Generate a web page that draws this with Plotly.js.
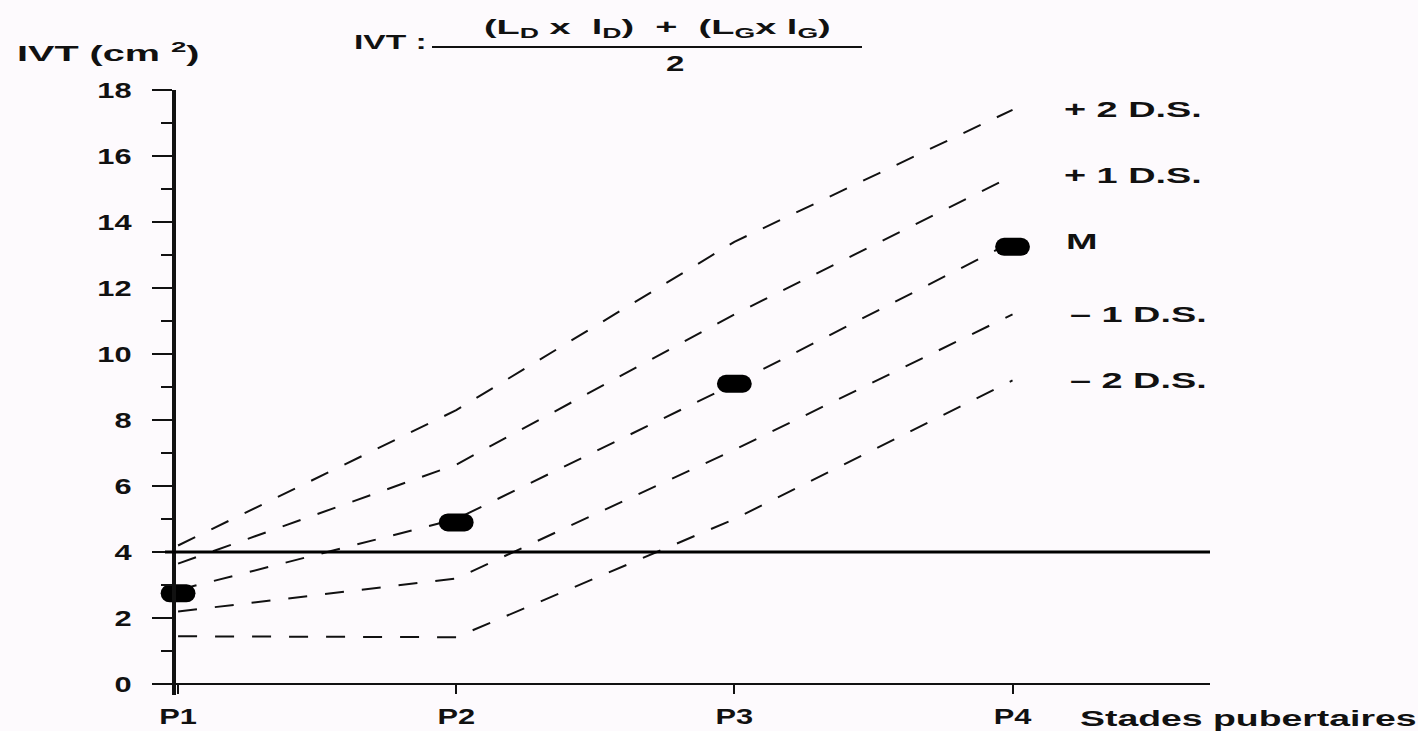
<!DOCTYPE html>
<html>
<head>
<meta charset="utf-8">
<script src="https://cdn.plot.ly/plotly-3.0.1.min.js"></script>
<style>
  html, body { margin: 0; padding: 0; background: #fdfafd; }
  #chart { width: 1418px; height: 731px; }
  .scatterlayer .points path { stroke-linecap: round; }
</style>
</head>
<body>
<div id="chart"></div>
<script>
// ---- data ----
const stages = ['P1', 'P2', 'P3', 'P4'];
const plus2 = [4.2, 8.3, 13.4, 17.4];
const plus1 = [3.65, 6.65, 11.2, 15.4];
const meanLine = [2.85, 5.0, 9.1, 13.4];
const minus1 = [2.2, 3.2, 7.1, 11.2];
const minus2 = [1.45, 1.42, 5.0, 9.2];
const meanPoints = [2.75, 4.9, 9.1, 13.25];
const threshold = 4;
const yTickVals = [0, 2, 4, 6, 8, 10, 12, 14, 16, 18];
const seriesLabels = ['+\u00a02\u00a0D.S.', '+\u00a01\u00a0D.S.', 'M', '\u2013\u00a01\u00a0D.S.', '\u2013\u00a02\u00a0D.S.'];
const yAxisTitle = 'IVT (cm <sup>2</sup>)';
const formulaLeft = 'IVT :';
const formulaNum = '(L<sub>D</sub> x\u00a0\u00a0l<sub>D</sub>)\u00a0\u00a0+\u00a0\u00a0(L<sub>G</sub>x l<sub>G</sub>)';
const formulaDen = '2';
const xAxisTitle = 'Stades pubertaires';

const FONT = 'Liberation Sans, Arial, sans-serif';
const FS = 22;
const SX = 1.4;
const INK = '#111';
const dashStyle = '19px,18px';

const seriesList = [plus2, plus1, meanLine, minus1, minus2];

const data = seriesList.map(s => ({
  x: stages, y: s, type: 'scatter', mode: 'lines',
  line: { color: INK, width: 2, dash: dashStyle },
  hoverinfo: 'skip', showlegend: false
}));
data.push({
  x: stages, y: meanPoints, type: 'scatter', mode: 'markers',
  marker: { symbol: 'line-ew', size: 12, color: '#000', line: { width: 18, color: '#000' } },
  hoverinfo: 'skip', showlegend: false
});

const L = 160, R = 1210, T = 90, B = 695;
const px = v => (v - L) / (R - L);
const py = v => (B - v) / (B - T);

const annotations = [];
const annScale = [];
function ann(text, x, y, xanchor, size, scale) {
  annotations.push({
    text: text, xref: 'paper', yref: 'paper', x: px(x), y: py(y),
    xanchor: xanchor, yanchor: 'middle', align: xanchor === 'left' ? 'left' : 'center',
    showarrow: false, font: { family: FONT, size: size, color: INK, weight: 'bold' }
  });
  annScale.push(scale);
}
ann(yAxisTitle, 15, 52, 'left', 22, 1.8);
ann(formulaLeft, 352, 42, 'left', 21, 1.6);
ann(formulaNum, 657, 29, 'center', 20, 1.9);
ann(formulaDen, 675, 63, 'center', 22, 1.5);
ann(xAxisTitle, 1078, 718, 'left', 22, 1.7);

const labelX = [1062, 1062, 1064, 1068, 1068];
seriesLabels.forEach((lab, i) => {
  const s = seriesList[i];
  annotations.push({
    text: lab, xref: 'paper', yref: 'y', x: px(labelX[i]), y: s[s.length - 1],
    xanchor: 'left', yanchor: 'middle', align: 'left', showarrow: false,
    font: { family: FONT, size: 22, color: INK, weight: 'bold' }
  });
  annScale.push(1.72);
});

const layout = {
  width: 1418, height: 731,
  margin: { l: L, r: 1418 - R, t: T, b: 731 - B, pad: 0 },
  paper_bgcolor: '#fdfafd', plot_bgcolor: '#fdfafd',
  showlegend: false,
  font: { family: FONT, size: FS, color: INK },
  xaxis: {
    type: 'category', range: [-0.065, 3.71],
    anchor: 'free', position: 0.33 / 18.33,
    showline: true, linecolor: INK, linewidth: 2,
    ticks: 'outside', ticklen: 9, tickwidth: 2, tickcolor: INK,
    ticklabelstandoff: 3,
    showgrid: false, zeroline: false,
    tickfont: { family: FONT, size: FS, color: INK, weight: 'bold' }
  },
  yaxis: {
    range: [-0.33, 18],
    anchor: 'free', position: px(174),
    showline: true, linecolor: INK, linewidth: 4,
    tickmode: 'array', tickvals: yTickVals,
    ticks: 'outside', ticklen: 20, tickwidth: 2, tickcolor: INK,
    minor: { dtick: 1, ticks: 'outside', ticklen: 11, tickwidth: 2, tickcolor: INK },
    ticklabelstandoff: 16,
    showgrid: false, zeroline: false,
    tickfont: { family: FONT, size: FS, color: INK, weight: 'bold' }
  },
  shapes: [
    { type: 'line', xref: 'paper', yref: 'y', x0: px(165), x1: 1, y0: threshold, y1: threshold,
      line: { color: '#000', width: 3 } },
    { type: 'line', xref: 'paper', yref: 'paper', x0: px(432), x1: px(862), y0: py(47), y1: py(47),
      line: { color: INK, width: 2 } }
  ],
  annotations: annotations
};

function stretch(t, s) {
  const x = parseFloat(t.getAttribute('x')) || 0;
  const tr = t.getAttribute('transform') || '';
  t.setAttribute('transform', tr + ' translate(' + x + ',0) scale(' + s + ',1) translate(' + (-x) + ',0)');
}

Plotly.newPlot('chart', data, layout, { displayModeBar: false, staticPlot: true }).then(gd => {
  gd.querySelectorAll('.xtick text, .ytick text').forEach(t => stretch(t, SX));
  gd.querySelectorAll('g.annotation').forEach(g => {
    const i = parseInt(g.getAttribute('data-index'), 10);
    const s = annScale[i] || SX;
    g.querySelectorAll('text').forEach(t => stretch(t, s));
  });
});
</script>
</body>
</html>
